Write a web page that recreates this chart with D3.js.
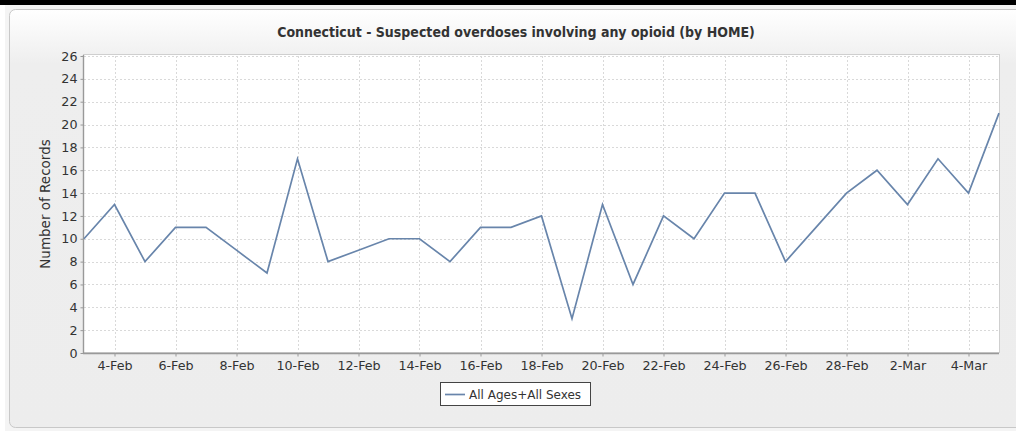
<!DOCTYPE html>
<html lang="en">
<head>
<meta charset="UTF-8">
<title>Connecticut - Suspected overdoses</title>
<script src="https://d3js.org/d3.v7.min.js"></script>
<style>
  html, body { margin: 0; padding: 0; background: #ffffff; }
  svg { display: block; }
</style>
</head>
<body>
<div id="container"></div>
<script>
// data (daily counts, 3-Feb .. 5-Mar)
var dates = ["2021-02-03","2021-02-04","2021-02-05","2021-02-06","2021-02-07","2021-02-08",
             "2021-02-09","2021-02-10","2021-02-11","2021-02-12","2021-02-13","2021-02-14",
             "2021-02-15","2021-02-16","2021-02-17","2021-02-18","2021-02-19","2021-02-20",
             "2021-02-21","2021-02-22","2021-02-23","2021-02-24","2021-02-25","2021-02-26",
             "2021-02-27","2021-02-28","2021-03-01","2021-03-02","2021-03-03","2021-03-04",
             "2021-03-05"];
var counts = [10,13,8,11,11,9,7,17,8,9,10,10,8,11,11,12,3,13,6,12,10,14,14,8,11,14,16,13,17,14,21];
var yTicks = [0,2,4,6,8,10,12,14,16,18,20,22,24,26];
var xTickDates = ["2021-02-04","2021-02-06","2021-02-08","2021-02-10","2021-02-12","2021-02-14",
                  "2021-02-16","2021-02-18","2021-02-20","2021-02-22","2021-02-24","2021-02-26",
                  "2021-02-28","2021-03-02","2021-03-04"];
var seriesName = "All Ages+All Sexes";
var title = "Connecticut - Suspected overdoses involving any opioid (by HOME)";
var yLabel = "Number of Records";

var width = 1016, height = 431;
var parse = d3.timeParse("%Y-%m-%d");
var data = dates.map(function(d, i){ return {date: parse(d), val: counts[i]}; });
var tickDates = xTickDates.map(parse);

var svg = d3.select("#container").append("svg")
    .attr("width", width).attr("height", height);

var defs = svg.append("defs");
var grad = defs.append("linearGradient").attr("id", "panelGrad")
    .attr("x1", 0).attr("y1", 0).attr("x2", 0).attr("y2", 1);
grad.append("stop").attr("offset", "0").attr("stop-color", "#ffffff");
grad.append("stop").attr("offset", "0.13").attr("stop-color", "#eeeeee");
grad.append("stop").attr("offset", "1").attr("stop-color", "#ededed");

// black strip on top + panel
svg.append("rect").attr("x", 0).attr("y", 0).attr("width", width).attr("height", 5).attr("fill", "#000");
svg.append("rect").attr("x", 5).attr("y", 5).attr("width", width - 5).attr("height", height - 5).attr("fill", "#f4f4f4");
svg.append("rect")
    .attr("x", 9.5).attr("y", 9.5).attr("width", width + 20).attr("height", 418)
    .attr("rx", 6).attr("ry", 6)
    .attr("fill", "url(#panelGrad)")
    .attr("stroke", "#c8c8c8");

var pLeft = 83, pRight = 999, pTop = 56, pBottom = 353;

var x = d3.scaleTime()
    .domain([parse("2021-02-03"), parse("2021-03-05")])
    .range([pLeft + 1, pRight]);
var y = d3.scaleLinear().domain([0, 26]).range([pBottom, pTop]);

// plot background
svg.append("rect").attr("x", pLeft + 0.5).attr("y", pTop - 1.5).attr("width", pRight - pLeft)
    .attr("height", pBottom - pTop + 1).attr("fill", "#fff").attr("stroke", "#cfcfcf");

var fmt = d3.timeFormat("%-d-%b");
var font = "DejaVu Sans, sans-serif";

// grid
var grid = svg.append("g").attr("stroke", "#d9d9d9").attr("stroke-dasharray", "2,2").attr("stroke-width", 1);
grid.selectAll("line.h").data(yTicks.slice(1)).enter().append("line")
    .attr("x1", pLeft + 1).attr("x2", pRight)
    .attr("y1", function(d){ return Math.round(y(d)) + 0.5; })
    .attr("y2", function(d){ return Math.round(y(d)) + 0.5; });
grid.selectAll("line.v").data(tickDates).enter().append("line")
    .attr("y1", pTop).attr("y2", pBottom)
    .attr("x1", function(d){ return Math.round(x(d)) + 0.5; })
    .attr("x2", function(d){ return Math.round(x(d)) + 0.5; });

// axes
var yAxis = d3.axisLeft(y).tickValues(yTicks).tickSize(3).tickPadding(3);
var gy = svg.append("g").attr("transform", "translate(" + (pLeft + 0.5) + ",0)").call(yAxis);
var xAxis = d3.axisBottom(x).tickValues(tickDates).tickFormat(fmt).tickSize(3).tickPadding(4);
var gx = svg.append("g").attr("transform", "translate(0," + (pBottom + 0.5) + ")").call(xAxis);

[gx, gy].forEach(function(g){
  g.select(".domain").attr("stroke", "#999").attr("stroke-width", 1.4);
  g.selectAll(".tick line").attr("stroke", "#999");
  g.selectAll("text").attr("fill", "#333").style("font-family", font).style("font-size", "12.7px");
});
gx.select(".domain").attr("d", "M" + pLeft + ",0H" + pRight);
gy.select(".domain").attr("d", "M0," + (pTop - 1) + "V" + pBottom);

// line
var line = d3.line().x(function(d){ return x(d.date); }).y(function(d){ return y(d.val); });
svg.append("path").datum(data)
    .attr("d", line)
    .attr("fill", "none")
    .attr("stroke", "#6885ab")
    .attr("stroke-width", 1.7)
    .attr("stroke-linejoin", "miter");

// title
svg.append("text").attr("x", 516).attr("y", 37).attr("text-anchor", "middle")
    .style("font-family", "DejaVu Sans Condensed, DejaVu Sans, sans-serif")
    .style("font-size", "14px").style("font-weight", "bold").attr("fill", "#333")
    .text(title);

// y label
svg.append("text").attr("transform", "translate(50,204) rotate(-90)")
    .attr("text-anchor", "middle")
    .style("font-family", font).style("font-size", "13.5px").attr("fill", "#333")
    .text(yLabel);

// legend
var lg = svg.append("g");
lg.append("rect").attr("x", 440.5).attr("y", 382.5).attr("width", 150).attr("height", 23)
    .attr("fill", "#fff").attr("stroke", "#444");
lg.append("line").attr("x1", 445).attr("x2", 465).attr("y1", 394.5).attr("y2", 394.5)
    .attr("stroke", "#6885ab").attr("stroke-width", 1.7);
lg.append("text").attr("x", 469).attr("y", 399)
    .style("font-family", font).style("font-size", "12px").attr("fill", "#333")
    .text(seriesName);
</script>
</body>
</html>
